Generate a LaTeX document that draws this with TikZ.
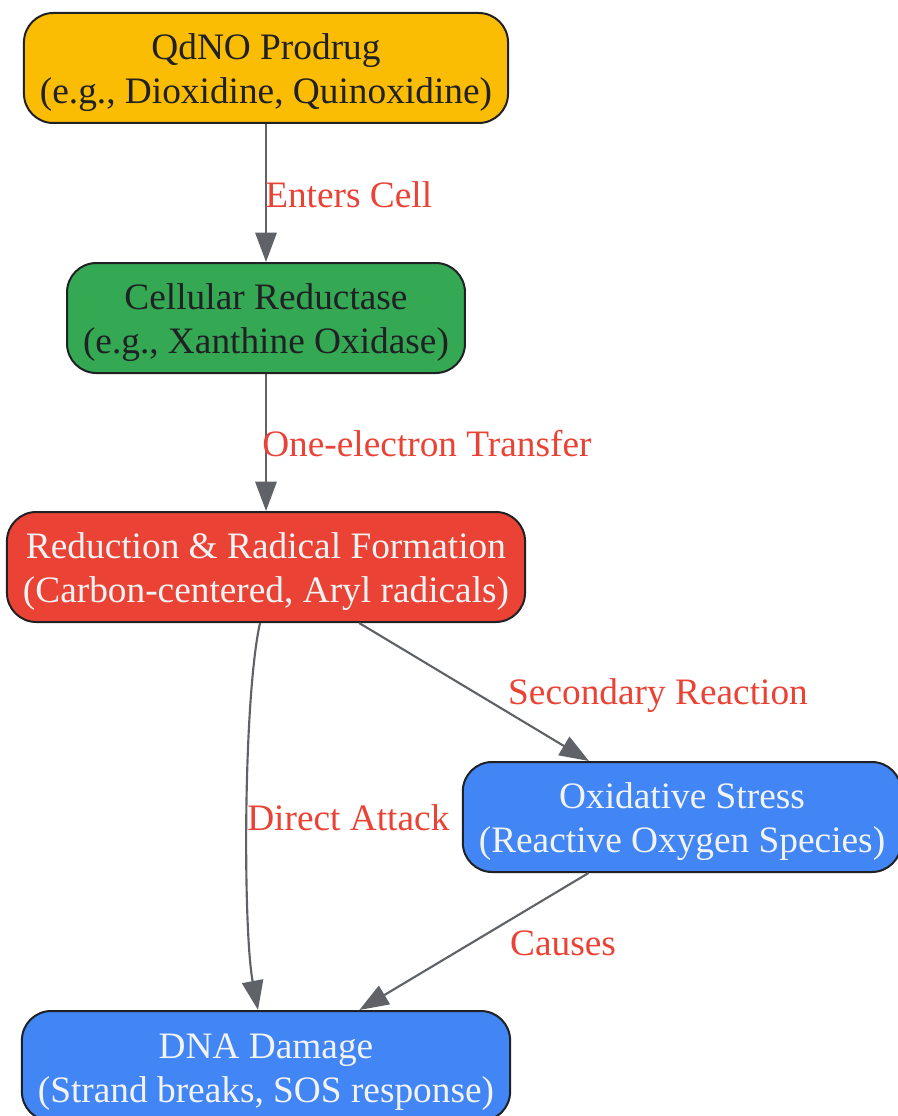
\documentclass[tikz,border=0pt]{standalone}
\usepackage{fontspec}
\setmainfont{Liberation Serif}
\usepackage{xcolor}
\definecolor{gyellow}{HTML}{FBBC04}
\definecolor{ggreen}{HTML}{34A853}
\definecolor{gred}{HTML}{EA4335}
\definecolor{gblue}{HTML}{4285F4}
\definecolor{gdark}{HTML}{202124}
\definecolor{glight}{HTML}{F1F3F4}
\definecolor{ggray}{HTML}{5F6368}
\usetikzlibrary{arrows.meta}

\begin{document}
\begin{tikzpicture}[x=0.75pt, y=-0.75pt,
    box/.style={draw=gdark, line width=1.5pt, rounded corners=22pt, align=center,
        minimum height=82.5pt, inner xsep=12pt, font=\fontsize{28}{33}\selectfont,
        text height=60pt},
    lbl/.style={text=gred, font=\fontsize{28}{33}\selectfont, inner sep=0pt},
    edge/.style={draw=ggray, line width=1.6pt, -{Triangle[length=22pt, width=16pt]}}]
    \useasboundingbox (0,0) rectangle (897,1116);
    \node[box, fill=gyellow, text=gdark] (prodrug) at (266,68) {QdNO Prodrug\\(e.g., Dioxidine, Quinoxidine)};
    \node[box, fill=ggreen, text=gdark] (reductase) at (266,318) {Cellular Reductase\\(e.g., Xanthine Oxidase)};
    \node[box, fill=gred, text=glight] (radical) at (266,567) {Reduction \& Radical Formation\\(Carbon-centered, Aryl radicals)};
    \node[box, fill=gblue, text=glight] (stress) at (682,817) {Oxidative Stress\\(Reactive Oxygen Species)};
    \node[box, fill=gblue, text=glight] (damage) at (266,1066) {DNA Damage\\(Strand breaks, SOS response)};
    \draw[edge] (prodrug) -- (reductase);
    \draw[edge] (reductase) -- (radical);
    \draw[edge] (radical) -- (stress);
    \draw[edge] ([xshift=-4.5pt]radical.south) .. controls (243,700) and (243,930) .. ([xshift=-6pt]damage.north);
    \draw[edge] (stress) -- (damage);
    \node[lbl, anchor=west] (entersl) at (265,195) {Enters Cell};
    \node[lbl, anchor=west] (transferl) at (262,444) {One-electron Transfer};
    \node[lbl] (secondl) at (658,696) {Secondary Reaction};
    \node[lbl, anchor=west] (attackl) at (247,818) {Direct Attack};
    \node[lbl] (causesl) at (563,943) {Causes};
\end{tikzpicture}
\end{document}
